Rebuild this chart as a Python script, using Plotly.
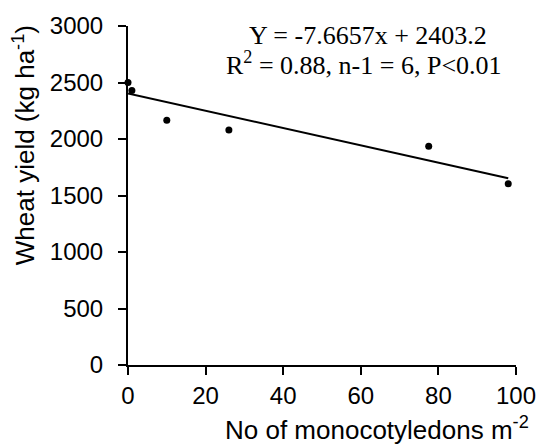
import plotly.graph_objects as go

# Data
x_vals = [0, 1, 10, 26, 77.5, 98]
y_vals = [2500, 2430, 2165, 2080, 1935, 1605]

# Reported regression (Y = -7.6657x + 2403.2)
slope = -7.6657
intercept = 2403.2
fit_x = [0, 98]

x_ticks = [0, 20, 40, 60, 80, 100]
y_ticks = [0, 500, 1000, 1500, 2000, 2500, 3000]

eq_line1 = "Y = -7.6657x + 2403.2"
eq_line2 = "R<sup>2</sup> = 0.88, n-1 = 6, P&lt;0.01"
x_title = "No of monocotyledons m<sup>-2</sup>"
y_title = "Wheat yield (kg ha<sup>-1</sup>)"

fit_y = [slope * v + intercept for v in fit_x]

sans = "Liberation Sans, Arial, sans-serif"
serif = "Liberation Serif, Times New Roman, serif"

fig = go.Figure()
fig.add_trace(go.Scatter(x=fit_x, y=fit_y, mode="lines",
                         line=dict(color="black", width=2), showlegend=False,
                         cliponaxis=False))
fig.add_trace(go.Scatter(x=x_vals, y=y_vals, mode="markers",
                         marker=dict(color="black", size=7), showlegend=False,
                         cliponaxis=False))

fig.update_layout(
    width=548, height=445,
    margin=dict(l=128, r=25, t=21, b=80),
    paper_bgcolor="white", plot_bgcolor="white",
    font=dict(family=sans, size=24, color="black"),
    xaxis=dict(range=[0, 100], tickvals=x_ticks, ticktext=[str(v) for v in x_ticks],
               showgrid=False, zeroline=False, showline=True, linecolor="black",
               linewidth=2, ticks="outside", ticklen=8, tickwidth=1.5,
               tickcolor="black", tickfont=dict(size=24), ticklabelstandoff=0),
    yaxis=dict(range=[0, 3000], tickvals=y_ticks, ticktext=[str(v) for v in y_ticks],
               showgrid=False, zeroline=False, showline=True, linecolor="black",
               linewidth=2, ticks="outside", ticklen=8, tickwidth=1.5,
               tickcolor="black", tickfont=dict(size=24), ticklabelstandoff=10),
    annotations=[
        dict(text=eq_line1, xref="paper", yref="paper", x=0.6175, y=0.922,
             xanchor="center", yanchor="bottom", showarrow=False,
             font=dict(family=serif, size=26, color="black")),
        dict(text=eq_line2, xref="paper", yref="paper", x=0.607, y=0.835,
             xanchor="center", yanchor="bottom", showarrow=False,
             font=dict(family=serif, size=26, color="black")),
        dict(text=x_title, xref="paper", yref="paper", x=(538 - 128) / 395, y=-0.2413,
             xanchor="right", yanchor="bottom", showarrow=False,
             font=dict(family=sans, size=26, color="black")),
        dict(text=y_title, xref="paper", yref="paper", x=(22 - 128) / 395, y=0.648,
             xanchor="center", yanchor="middle", showarrow=False, textangle=-90,
             font=dict(family=sans, size=26, color="black")),
    ],
)

# remove the browser's default 8px body margin so the figure sits at the page origin
fig.write_html("out.html", config={"displayModeBar": False},
               post_script="document.body.style.margin='0px';")
